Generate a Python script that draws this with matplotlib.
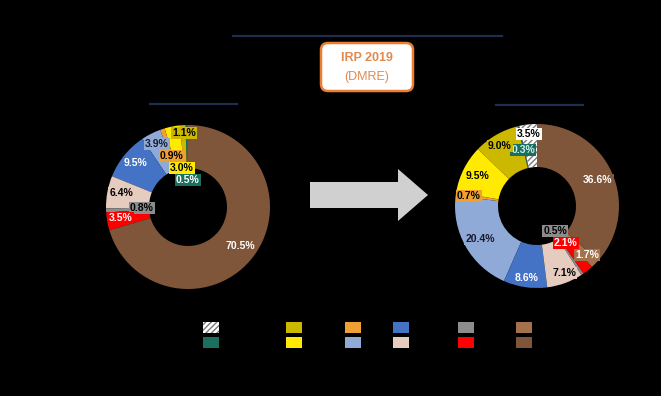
import matplotlib.pyplot as plt
from matplotlib.patches import FancyBboxPatch, FancyArrow, Patch

W, H = 661, 396

# technology colours, in legend order (legend texts are black on black in the reference)
colors = ["#ffffff", "#1b6f5f", "#cdb800", "#ffea00", "#efa032", "#8faad6",
          "#4472c4", "#e6cbbf", "#8c8c8c", "#ff0000", "#a3714b", "#80563a"]
text_colors = ["black", "white", "black", "black", "black", "#1a1a2e",
               "white", "black", "black", "white", "white", "white"]

left_share = [0.0, 0.5, 1.1, 3.0, 0.9, 3.9, 9.5, 6.4, 0.8, 3.5, 0.0, 70.5]
right_share = [3.5, 0.3, 9.0, 9.5, 0.7, 20.4, 8.6, 7.1, 0.5, 2.1, 1.7, 36.6]

# label anchor points in figure pixels (top-left origin), placed by hand as in the source
left_label_xy = [None, (188, 180), (184, 133), (182, 168), (172, 156), (157, 144),
                 (136, 163), (121, 193), (142, 208), (121, 218), None, (240, 246)]
right_label_xy = [(529, 134), (523, 150), (500, 146), (477, 176), (469, 196), (480, 239),
                  (527, 278), (564, 273), (555, 231), (566, 243), (587, 255), (598, 180)]

# x centre of each legend column (pixels)
legend_col_x = [211, 294, 353, 401, 466, 524]

plt.rcParams["font.family"] = ["Liberation Sans", "DejaVu Sans"]

fig = plt.figure(figsize=(W / 100, H / 100), dpi=100, facecolor="black")
ax = fig.add_axes([0, 0, 1, 1])
ax.set_facecolor("black")


def donut(values, center, label_xy, teal_text="white"):
    wedges, _ = ax.pie(values, colors=colors, startangle=90, counterclock=True,
                       radius=82, center=(center[0], H - center[1]),
                       wedgeprops=dict(width=43, linewidth=0))
    wedges[0].set_hatch("//////")
    wedges[0].set_edgecolor("#7a7a7a")
    for i, v in enumerate(values):
        if v == 0 or label_xy[i] is None:
            continue
        x, y = label_xy[i]
        tc = teal_text if i == 1 else text_colors[i]
        ax.text(x, H - y, f"{v:.1f}%", ha="center", va="center", fontsize=7.5,
                fontweight="bold", color=tc,
                bbox=dict(boxstyle="square,pad=0.12", fc=colors[i], ec="none"))


donut(left_share, (188, 207), left_label_xy)
donut(right_share, (537, 206), right_label_xy, teal_text="#c9f2ef")

# header lines
line_col = "#1f2d4f"
ax.plot([233, 502], [H - 36, H - 36], color=line_col, lw=1.6)
ax.plot([150, 237], [H - 104, H - 104], color=line_col, lw=1.6)
ax.plot([496, 583], [H - 105, H - 105], color=line_col, lw=1.6)

# IRP box
box = FancyBboxPatch((324, H - 88), 86, 42, boxstyle="round,pad=3,rounding_size=7",
                     fc="white", ec="#ed7d31", lw=1.8)
ax.add_patch(box)
ax.text(367, H - 58, "IRP 2019", ha="center", va="center", fontsize=9,
        fontweight="bold", color="#e08a50")
ax.text(367, H - 77, "(DMRE)", ha="center", va="center", fontsize=9, color="#e08a50")

# arrow between the donuts
ax.add_patch(FancyArrow(310, H - 195, 118, 0, width=26, head_width=52,
                        head_length=30, length_includes_head=True,
                        fc="#d0d0d0", ec="none"))

ax.set_xlim(0, W)
ax.set_ylim(0, H)
ax.set_aspect("auto")
ax.axis("off")

handles = [Patch(facecolor=c, edgecolor="none") for c in colors]
handles[0] = Patch(facecolor="white", edgecolor="#7a7a7a", hatch="//////", linewidth=0)
for col, cx in enumerate(legend_col_x):
    pair = handles[2 * col:2 * col + 2]
    fig.legend(pair, ["", ""], ncol=1, loc="center",
               bbox_to_anchor=(cx / W, 1 - 335 / H), frameon=False, fontsize=8,
               handlelength=1.45, handleheight=1.1, handletextpad=0,
               labelspacing=0.35, borderpad=0, borderaxespad=0)

fig.savefig("out.png", dpi=100, facecolor="black")
